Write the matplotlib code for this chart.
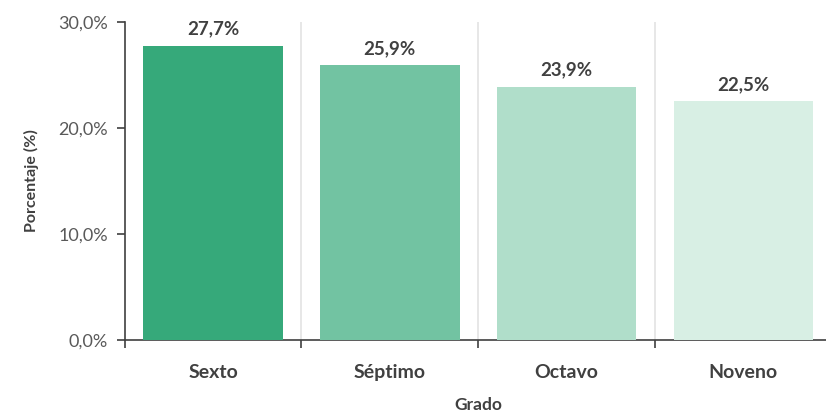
import matplotlib
matplotlib.use("Agg")
from matplotlib import pyplot as plt
from matplotlib.ticker import FuncFormatter

plt.rcParams['font.family'] = ['Lato', 'DejaVu Sans']

grades = ["Sexto", "Séptimo", "Octavo", "Noveno"]
values = [27.7, 25.9, 23.9, 22.5]
colors = ["#36a97a", "#72c3a2", "#b0deca", "#d8efe4"]

fig = plt.figure(figsize=(8.26, 4.12), dpi=100)
ax = fig.add_axes([0.151, 0.175, 0.856, 0.772])

x = list(range(len(grades)))
ax.bar(x, values, width=0.79, color=colors, zorder=3)

# value labels above bars
for xi, v in zip(x, values):
    ax.text(xi, v + 0.8, f"{v:.1f}%".replace(".", ","), ha="center", va="bottom",
            fontsize=13.5, fontweight="bold", color="#404040")

ax.set_xlim(-0.5, 3.5)
ax.set_ylim(0, 30)
ax.set_yticks([0, 10, 20, 30])
ax.yaxis.set_major_formatter(FuncFormatter(lambda v, p: f"{v:.1f}%".replace(".", ",")))

# boundaries between categories as ticks + light grid
ax.set_xticks([-0.5, 0.5, 1.5, 2.5], minor=False)
ax.set_xticklabels([])
ax.set_xticks(x, minor=True)
ax.set_xticklabels(grades, minor=True)
ax.tick_params(axis="x", which="minor", length=0, pad=17, labelsize=14, labelcolor="#404040")
for lab in ax.get_xticklabels(minor=True):
    lab.set_fontweight("bold")
ax.tick_params(axis="x", which="major", length=6, width=1.2, color="#404040")
ax.tick_params(axis="y", length=6, width=1.2, color="#404040", labelsize=13, labelcolor="#595959", pad=6)
for gx in [0.5, 1.5, 2.5]:
    ax.axvline(gx, color="#e3e3e3", lw=1.2, zorder=1)

for s in ["top", "right"]:
    ax.spines[s].set_visible(False)
ax.spines["left"].set_color("#404040")
ax.spines["bottom"].set_color("#404040")
ax.spines["left"].set_linewidth(1.2)
ax.spines["bottom"].set_linewidth(1.2)

ax.set_xlabel("Grado", fontsize=12.5, fontweight="bold", color="#404040", labelpad=12)
ax.set_ylabel("Porcentaje (%)", fontsize=11.5, fontweight="bold", color="#404040", labelpad=14)

fig.savefig("out.png", dpi=100)
